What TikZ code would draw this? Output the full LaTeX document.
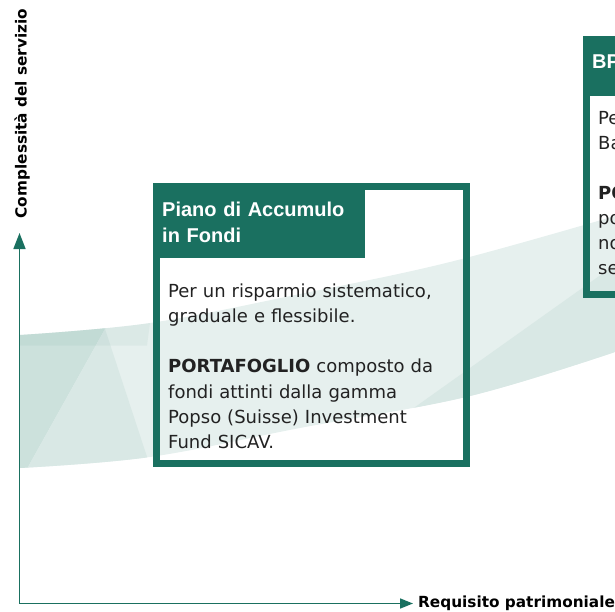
\documentclass[tikz,border=0pt]{standalone}
\usepackage{fontspec}
\setmainfont{DejaVu Sans}
\newfontfamily\titlefont{Liberation Sans}
\usetikzlibrary{arrows.meta}
\definecolor{brand}{HTML}{1A7060}
\definecolor{bandbase}{HTML}{E6F0EE}
\definecolor{bandmid}{HTML}{D9E8E5}
\definecolor{banddark}{HTML}{CCE1DC}
\definecolor{bodytext}{HTML}{222222}
\def\bandpath{plot[smooth,tension=0.6] coordinates {(20,335) (150,323) (300,294) (450,262) (615,216)} -- (640,210) -- (640,345) -- plot[smooth,tension=0.6] coordinates {(615,352) (470,396) (300,428) (150,457) (20,468)} -- cycle}
\begin{document}
\begin{tikzpicture}[x=1pt,y=-1pt,
  frame/.style={draw=brand,line width=7pt},
  titlebar/.style={fill=brand},
  titletext/.style={text=white,font=\titlefont\bfseries\fontsize{20}{26}\selectfont,inner sep=0pt,anchor=base west,align=left},
  bodytxt/.style={text=bodytext,font=\fontsize{18}{25.3}\selectfont,inner sep=0pt,anchor=base west,align=left},
  axisline/.style={draw=brand,line width=1.6pt},
  axislabel/.style={font=\bfseries\fontsize{15.3}{18}\selectfont,inner sep=0pt,text=black}]
\useasboundingbox (0,0) rectangle (615,612);
% background band
\begin{scope}
\clip \bandpath;
\fill[bandbase] (0,150) rectangle (640,500);
\fill[banddark] (0,300) -- (105,300) -- (105,329) -- (23.5,475) -- (0,475) -- cycle;
\fill[bandmid] (105,329) -- (153,475) -- (23.5,475) -- cycle;
\fill[brand,opacity=0.05] (0,300) -- (150,300) -- (150,323) -- (147,345.5) -- (0,345.5) -- cycle;
\fill[bandmid] (380,432) -- (640,247) -- (640,480) -- (380,480) -- cycle;
\end{scope}
% box 1
\draw[frame] (156.5,186.5) rectangle (466.5,463.5);
\fill[titlebar] (153,183) rectangle (365,258);
\node[titletext,text width=200pt] (t1) at (162,217) {Piano di Accumulo\\in Fondi};
\node[bodytxt,text width=300pt] (b1) at (168,297) {Per un risparmio sistematico,\\graduale e flessibile.\\[25.3pt]\textbf{PORTAFOGLIO} composto da\\fondi attinti dalla gamma\\Popso (Suisse) Investment\\Fund SICAV.};
% box 2
\draw[frame] (586.5,39.5) rectangle (700,294.5);
\fill[titlebar] (583,36) rectangle (700,96);
\node[titletext] (t2) at (592,69) {BP};
\node[bodytxt,text width=100pt,font=\fontsize{18}{25}\selectfont] (b2) at (598,125) {Pe\\Ba\\[25pt]\textbf{PO}\\po\\no\\se};
% axes
\coordinate (origin) at (19.5,603.5);
\coordinate (ytip) at (19.5,233);
\coordinate (xtip) at (413,603.5);
\draw[axisline,-{Triangle[length=16pt,width=12pt]}] (origin) -- (ytip);
\draw[axisline,-{Triangle[length=13pt,width=10pt]}] (origin) -- (xtip);
\node[axislabel,rotate=90,anchor=base] (ylabel) at (26.5,113.5) {Complessità del servizio};
\node[axislabel,anchor=base west] (xlabel) at (418,607) {Requisito patrimoniale};
\end{tikzpicture}
\end{document}
